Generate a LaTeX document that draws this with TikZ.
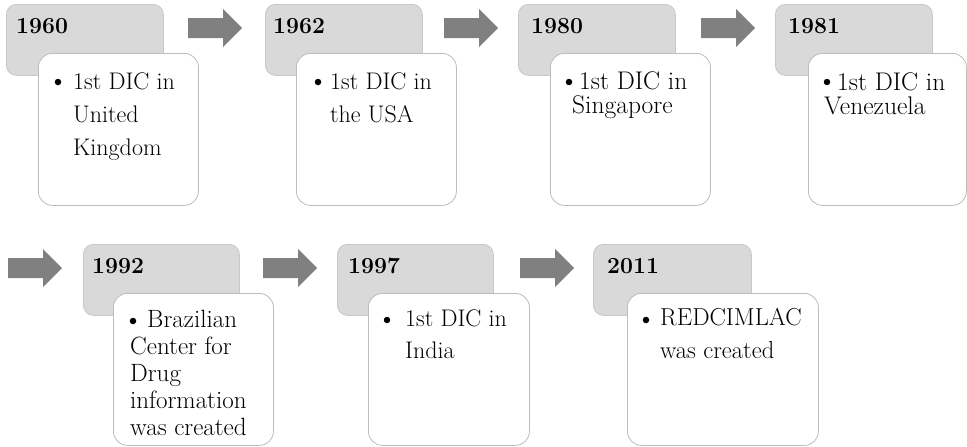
\documentclass[tikz,border=0pt]{standalone}
\usepackage{fontspec}
\definecolor{boxgray}{HTML}{D9D9D9}
\definecolor{boxline}{HTML}{C8C8C8}
\definecolor{wline}{HTML}{BDBDBD}
\definecolor{arrowgray}{HTML}{808080}
\tikzset{
  graybox/.style={draw=boxline, fill=boxgray, rounded corners=10pt, minimum width=157pt,
    minimum height=71pt, inner sep=0pt, anchor=north west, line width=0.8pt},
  whitebox/.style={draw=wline, fill=white, rounded corners=14pt, minimum height=152pt,
    inner sep=0pt, anchor=north west, line width=0.8pt},
  yeartxt/.style={font=\fontsize{23}{26}\selectfont\bfseries, anchor=base west, inner sep=0pt},
  bulletdot/.style={circle, fill=black, minimum size=6.5pt, inner sep=0pt},
  desc/.style={anchor=base west, inner sep=0pt},
  bigarrow/.pic={\fill[arrowgray] (0,-10) -- (35,-10) -- (35,-19) -- (54,0) -- (35,19) -- (35,10) -- (0,10) -- cycle;}
}
\newcommand{\lines}[1]{\begin{tabular}[t]{@{}l@{}}#1\end{tabular}}
\begin{document}
\begin{tikzpicture}[x=1pt,y=-1pt]
\useasboundingbox (0,0) rectangle (967,447);
% row 1 arrows
\pic at (188,28) {bigarrow};
\pic at (444,28) {bigarrow};
\pic at (701,28) {bigarrow};
% row 2 arrows
\pic at (8,268) {bigarrow};
\pic at (263,268) {bigarrow};
\pic at (520,268) {bigarrow};

% 1960
\node[graybox] (g1) at (6,4) {};
\node[yeartxt] (y1) at (16,33) {1960};
\node[whitebox, minimum width=160pt] (w1) at (38,53) {};
\node[bulletdot] (b1) at (58,82) {};
\node[desc, font={\fontsize{24}{33}\selectfont}] (d1) at (73,89) {\lines{1st DIC in\\United\\Kingdom}};

% 1962
\node[graybox] (g2) at (265,4) {};
\node[yeartxt] (y2) at (273,33) {1962};
\node[whitebox, minimum width=160pt] (w2) at (296,53) {};
\node[bulletdot] (b2) at (318,82) {};
\node[desc, font={\fontsize{24}{33}\selectfont}] (d2) at (330,89) {\lines{1st DIC in\\the USA}};

% 1980
\node[graybox] (g3) at (518,4) {};
\node[yeartxt] (y3) at (531,33) {1980};
\node[whitebox, minimum width=160pt] (w3) at (550,53) {};
\node[bulletdot] (b3) at (569,82) {};
\node[desc, font={\fontsize{25.5}{23}\selectfont}] (d3) at (572,89) {\lines{\hspace{7pt}1st DIC in\\Singapore}};

% 1981
\node[graybox] (g4) at (775,4) {};
\node[yeartxt] (y4) at (788,33) {1981};
\node[whitebox, minimum width=158pt] (w4) at (808,53) {};
\node[bulletdot] (b4) at (827,82) {};
\node[desc, font={\fontsize{25.5}{23}\selectfont}] (d4) at (824,90) {\lines{\hspace{13pt}1st DIC in\\Venezuela}};

% 1992
\node[graybox, minimum width=156pt] (g5) at (83,244) {};
\node[yeartxt] (y5) at (92,273) {1992};
\node[whitebox, minimum width=160pt] (w5) at (113,293) {};
\node[bulletdot] (b5) at (133,321) {};
\node[desc, font={\fontsize{25}{27}\selectfont}] (d5) at (130,327) {\lines{\hspace{17pt}Brazilian\\Center for\\Drug\\information\\was created}};

% 1997
\node[graybox, minimum width=156pt] (g6) at (337,244) {};
\node[yeartxt] (y6) at (348,273) {1997};
\node[whitebox, minimum width=161pt] (w6) at (368,293) {};
\node[bulletdot] (b6) at (387,320) {};
\node[desc, font={\fontsize{24}{32}\selectfont}] (d6) at (405,326) {\lines{1st DIC in\\India}};

% 2011
\node[graybox, minimum width=158pt] (g7) at (593,244) {};
\node[yeartxt] (y7) at (607,273) {2011};
\node[whitebox, minimum width=191pt] (w7) at (627,293) {};
\node[bulletdot] (b7) at (646,320) {};
\node[desc, font={\fontsize{24.5}{33}\selectfont}] (d7) at (660,325) {\lines{REDCIMLAC\\was created}};
\end{tikzpicture}
\end{document}
